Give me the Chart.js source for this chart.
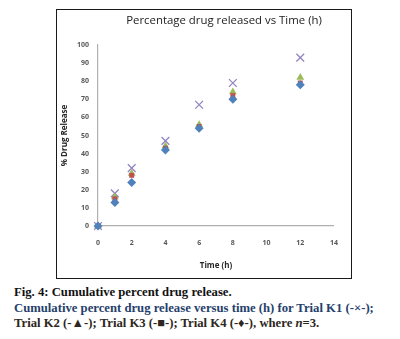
<!DOCTYPE html>
<html>
<head>
<meta charset="utf-8">
<script src="https://cdn.jsdelivr.net/npm/chart.js@4/dist/chart.umd.min.js"></script>
<style>
  html, body { margin: 0; padding: 0; background: #fff; }
  body { width: 400px; height: 339px; position: relative; overflow: hidden; }
  #frame { position: absolute; left: 56px; top: 9px; width: 294px; height: 268px; border: 1px solid #1a1a1a; background: #fff; }
  #frame canvas { display: block; }
  .cap { position: absolute; left: 14px; white-space: nowrap; font-family: "Liberation Serif", serif; font-size: 12.7px; line-height: 15px; }
  #cap1 { top: 285px; font-weight: bold; color: #111; }
  #cap2 { top: 301px; color: #25406b; font-weight: bold; }
  #cap3 { top: 316px; color: #2e2620; font-weight: bold; }
</style>
</head>
<body>
<div id="frame"><canvas id="chart" width="294" height="268"></canvas></div>
<div class="cap" id="cap1">Fig. 4: Cumulative percent drug release.</div>
<div class="cap" id="cap2">Cumulative percent drug release versus time (h) for Trial K1 (-×-);</div>
<div class="cap" id="cap3">Trial K2 (-▲-); Trial K3 (-■-); Trial K4 (-♦-), where <i>n</i>=3.</div>
<script>
// Sampling times (h)
const times = [0, 1, 2, 4, 6, 8, 12];
// Cumulative % drug released for each trial
const trialK1 = [0, 18, 32, 47, 67, 79, 93];
const trialK2 = [0, 16, 29, 44, 56, 74, 82];
const trialK3 = [0, 15, 28, 43, 55, 72, 79];
const trialK4 = [0, 13, 24, 42, 54, 70, 78];
const seriesNames = ['Trial K1', 'Trial K2', 'Trial K3', 'Trial K4'];
const chartTitle = 'Percentage drug released vs Time (h)';
const xTitle = 'Time (h)';
const yTitle = '% Drug Release';

const toPoints = vals => times.map((t, i) => ({ x: t, y: vals[i] }));

// Title drawn over the plot area
const titlePlugin = {
  id: 'plotTitle',
  afterDraw(chart) {
    const ctx = chart.ctx;
    ctx.save();
    ctx.font = '11.4px "Open Sans", sans-serif';
    ctx.fillStyle = '#222';
    ctx.textAlign = 'center';
    ctx.textBaseline = 'middle';
    ctx.fillText(chartTitle, 167, 11);
    ctx.restore();
  }
};

const tickFont = { family: '"Open Sans", sans-serif', size: 7, weight: 'bold' };
const axisTitleFont = { family: '"Open Sans", sans-serif', size: 8, weight: 'bold' };

// Lower 'order' is painted last, so the K4 diamonds sit on top
new Chart(document.getElementById('chart'), {
  type: 'scatter',
  data: {
    datasets: [
      { label: seriesNames[0], data: toPoints(trialK1), pointStyle: 'crossRot', pointRadius: 5.5,
        borderColor: '#9384c2', backgroundColor: '#9384c2', pointBorderWidth: 1.3, order: 3, clip: false },
      { label: seriesNames[1], data: toPoints(trialK2), pointStyle: 'triangle', pointRadius: 4.5,
        borderColor: '#9bbb59', backgroundColor: '#9bbb59', pointBorderWidth: 0, order: 2, clip: false },
      { label: seriesNames[2], data: toPoints(trialK3), pointStyle: 'rect', pointRadius: 3.5,
        borderColor: '#c0504d', backgroundColor: '#c0504d', pointBorderWidth: 0, order: 1, clip: false },
      { label: seriesNames[3], data: toPoints(trialK4), pointStyle: 'rectRot', pointRadius: 4.5,
        borderColor: '#4f81bd', backgroundColor: '#4f81bd', pointBorderWidth: 0, order: 0, clip: false }
    ]
  },
  options: {
    responsive: false,
    animation: false,
    devicePixelRatio: 1,
    layout: { padding: { top: 35, right: 10, bottom: 0, left: 0 } },
    plugins: { legend: { display: false }, tooltip: { enabled: false }, title: { display: false } },
    scales: {
      x: {
        type: 'linear', min: 0, max: 14,
        ticks: { stepSize: 2, font: tickFont, color: '#595959', padding: 13, maxRotation: 0 },
        grid: { display: false, drawTicks: false },
        border: { display: true, color: '#b0b0b0', width: 1.2 },
        title: { display: true, text: xTitle, font: axisTitleFont, color: '#262626', padding: { top: 0, bottom: 7 } },
        afterFit(scale) { scale.height = 52; }
      },
      y: {
        min: 0, max: 100,
        ticks: { stepSize: 10, font: tickFont, color: '#595959', padding: 9 },
        grid: { display: false, drawTicks: false },
        border: { display: true, color: '#b0b0b0', width: 1.2 },
        title: { display: true, text: yTitle, font: axisTitleFont, color: '#262626', padding: { top: 3, bottom: 0 } },
        afterFit(scale) { scale.width = 41; }
      }
    }
  },
  plugins: [titlePlugin]
});
</script>
</body>
</html>
